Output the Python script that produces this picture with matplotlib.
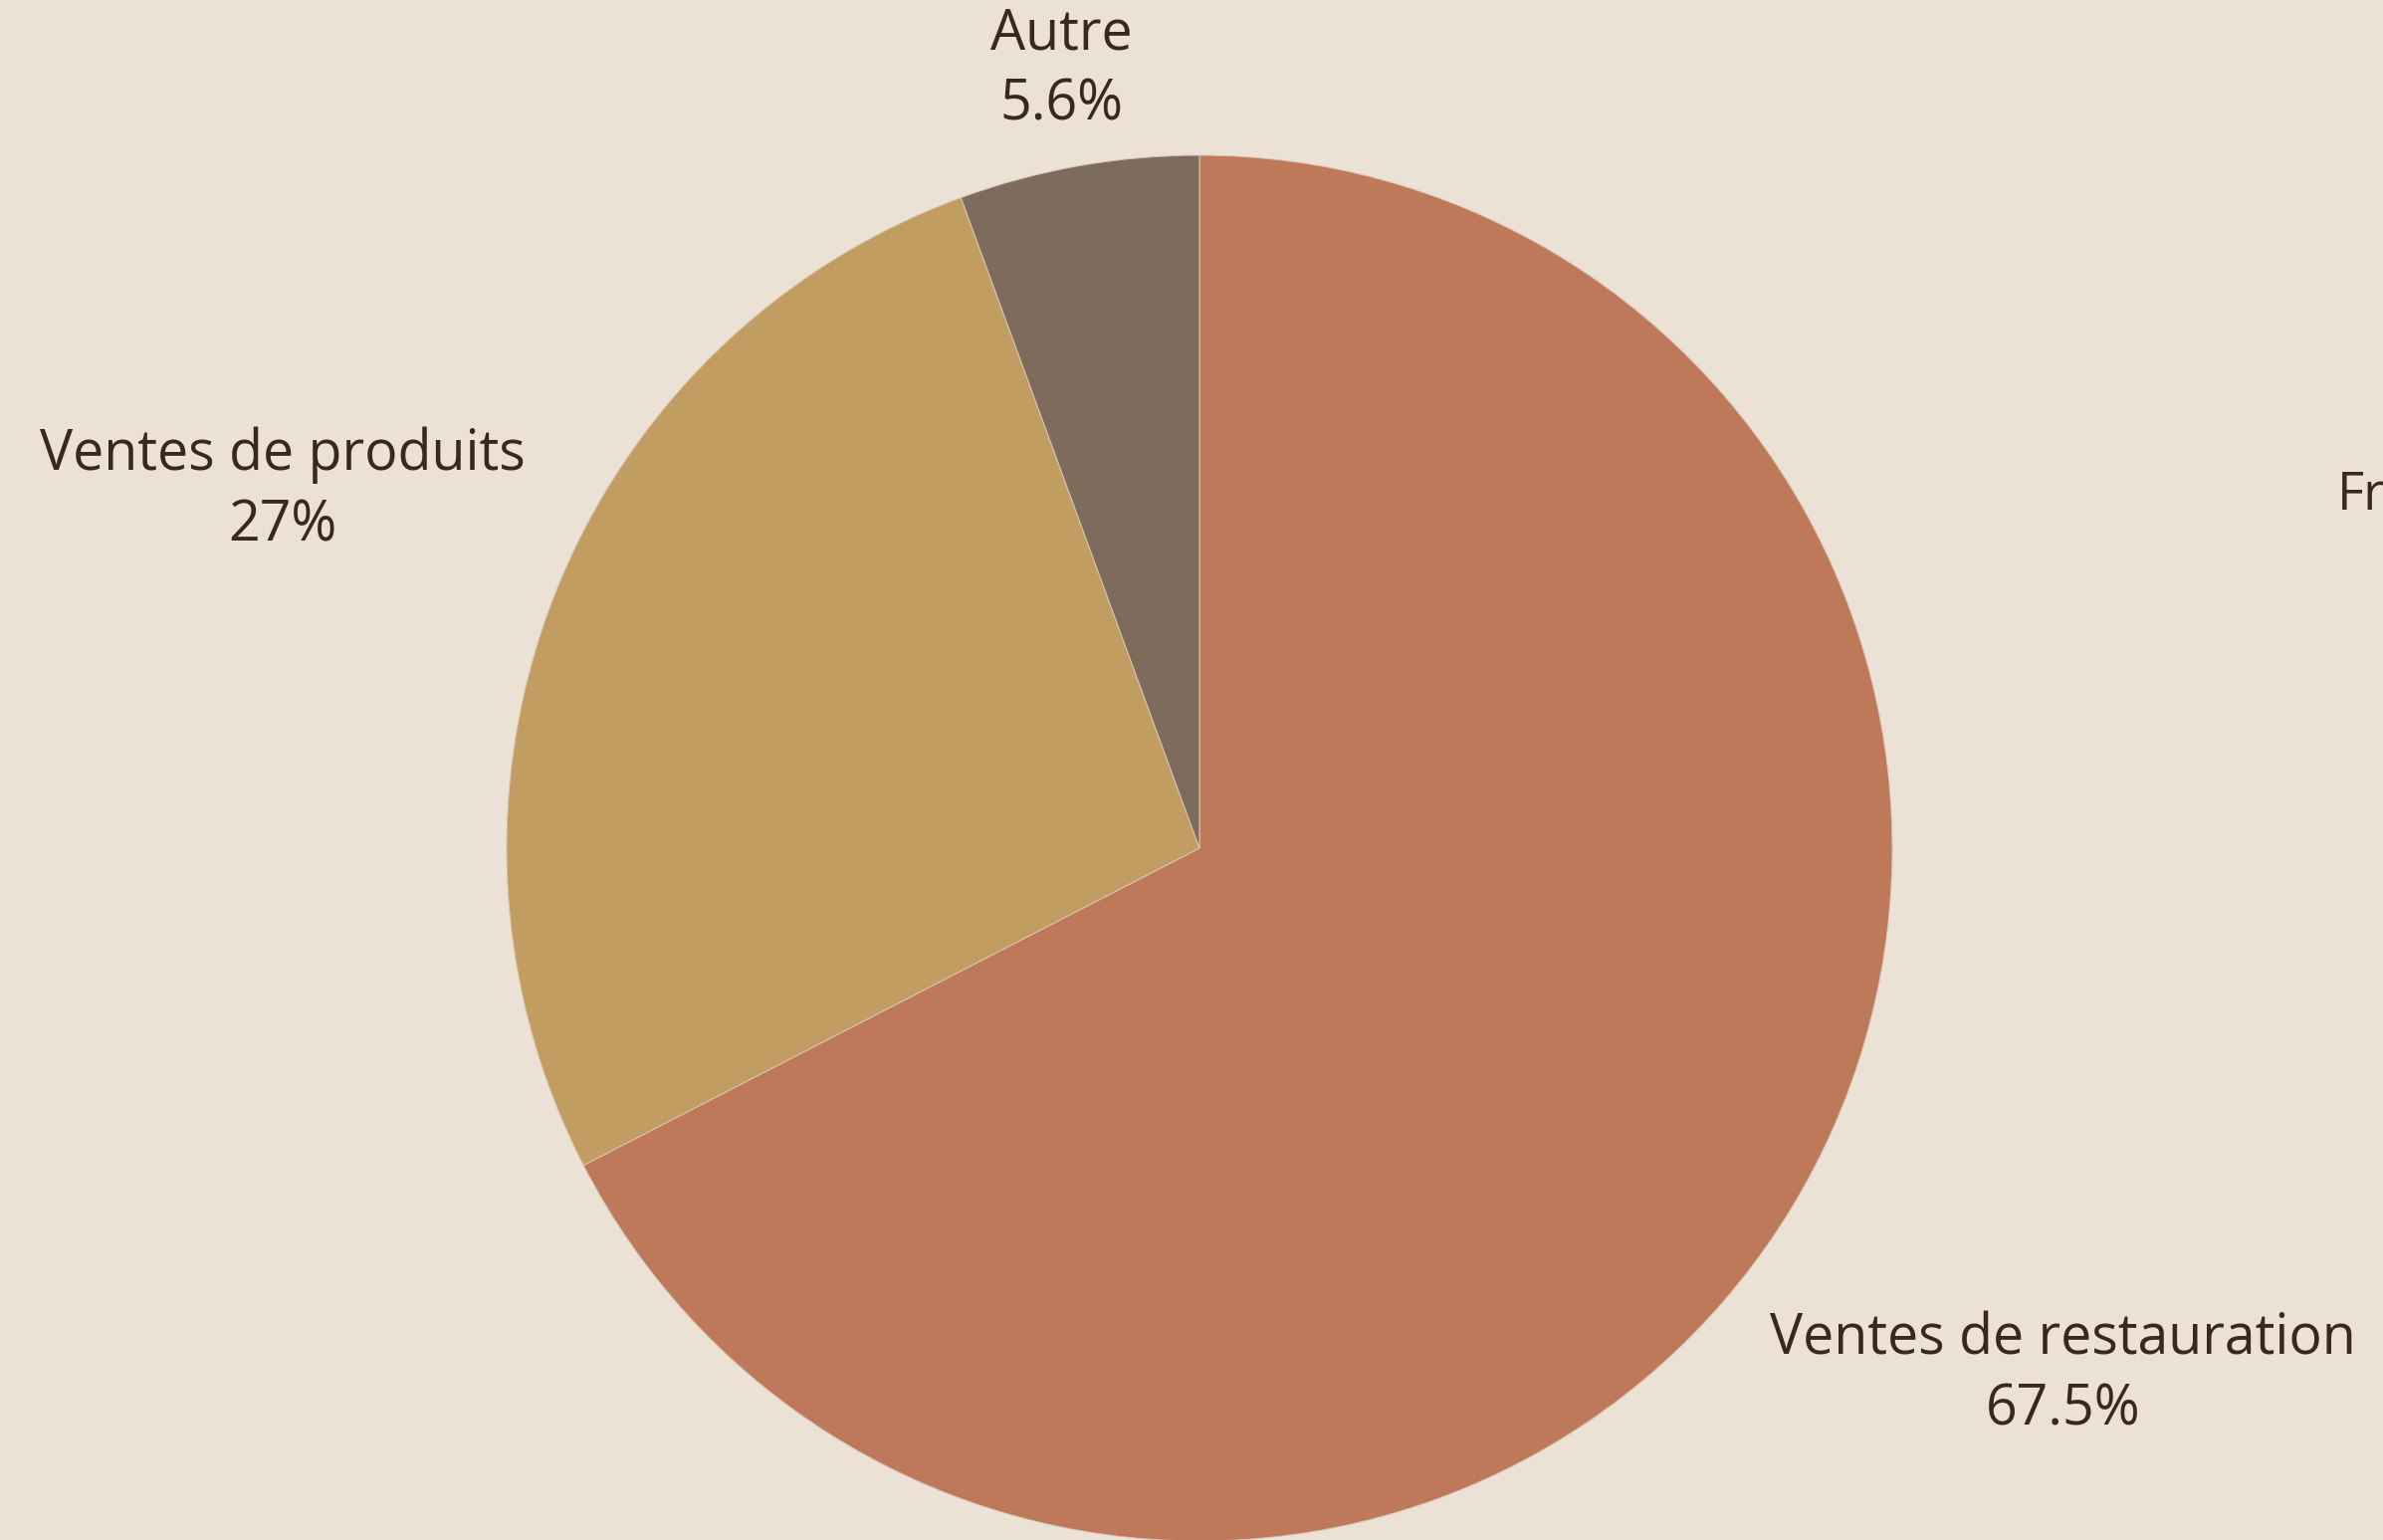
import matplotlib
matplotlib.use("Agg")
import matplotlib.pyplot as plt
import numpy as np

categories = ["Ventes de restauration", "Ventes de produits", "Autre"]
values = [67.5, 27.0, 5.6]
pct_labels = ["67.5%", "27%", "5.6%"]
colors = ["#BE795B", "#C29D62", "#7D6B5C"]
label_dist = [1.46, 1.42, 1.14]

BG = "#EBE1D5"
TXT = "#3A281C"
W, H = 2394, 1547

plt.rcParams['font.family'] = ['Open Sans', 'DejaVu Sans']

fig = plt.figure(figsize=(W / 100, H / 100), dpi=100, facecolor=BG)
ax = fig.add_axes([0, 0, 1, 1])
ax.set_facecolor(BG)

cx, cy, R = 1205, H - 852, 696
wedges, _ = ax.pie(values, colors=colors, startangle=90, counterclock=False,
                   center=(cx, cy), radius=R, frame=True,
                   wedgeprops=dict(edgecolor="#D9C6B6", linewidth=0.7))
ax.set_xlim(0, W)
ax.set_ylim(0, H)
ax.set_aspect('equal')
ax.axis('off')

for w, cat, pct, d in zip(wedges, categories, pct_labels, label_dist):
    mid = np.deg2rad((w.theta1 + w.theta2) / 2)
    x = cx + R * d * np.cos(mid)
    y = cy + R * d * np.sin(mid)
    ax.text(x, y, cat + "\n" + pct, ha='center', va='center', fontsize=40,
            color=TXT, linespacing=1.33, multialignment='center')

ax.text(2348, H - 512, "Fréquentation", ha='left', va='baseline', fontsize=38,
        color=TXT, clip_on=False)

fig.savefig("out.png", dpi=100, facecolor=BG)
